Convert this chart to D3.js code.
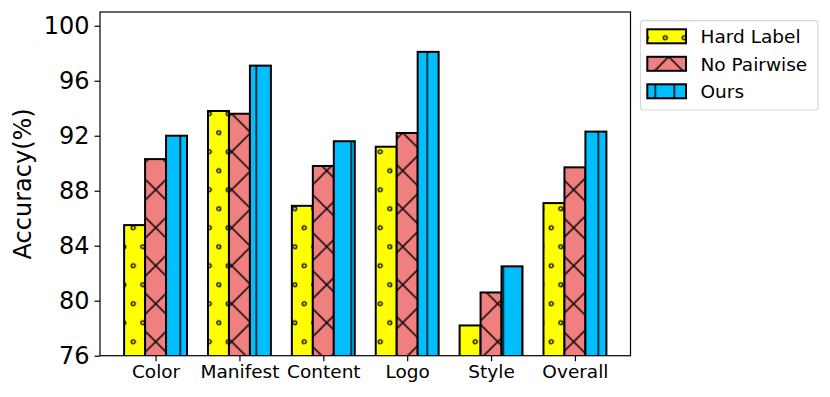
<!DOCTYPE html>
<html>
<head>
<meta charset="utf-8">
<script src="https://cdn.jsdelivr.net/npm/d3@7"></script>
<style>
  body { margin: 0; background: #fff; }
  svg { font-family: "DejaVu Sans", sans-serif; display: block; }
</style>
</head>
<body>
<div id="chart"></div>
<script>
// Accuracy per attribute, three variants
const categories = ['Color', 'Manifest', 'Content', 'Logo', 'Style', 'Overall'];
const hardLabel = [85.5, 93.8, 86.9, 91.2, 78.2, 87.1];
const noPairwise = [90.3, 93.6, 89.8, 92.2, 80.6, 89.7];
const ours = [92.0, 97.1, 91.6, 98.1, 82.5, 92.3];
const seriesNames = ['Hard Label', 'No Pairwise', 'Ours'];
const yTicks = [76, 80, 84, 88, 92, 96, 100];

const W = 830, H = 397;
const box = { left: 100, right: 630.5, top: 12, bottom: 355.7 };
const barW = 0.25;
const hatchStep = 19;

const svg = d3.select('#chart').append('svg')
  .attr('width', W)
  .attr('height', H);

const defs = svg.append('defs');

// hatch patterns, anchored in page coordinates so bars and legend share them
const dots = defs.append('pattern')
  .attr('id', 'hatch-dots')
  .attr('patternUnits', 'userSpaceOnUse')
  .attr('x', 133.3).attr('y', 227.7)
  .attr('width', hatchStep).attr('height', hatchStep * 2);
dots.append('rect').attr('width', hatchStep).attr('height', hatchStep * 2).attr('fill', '#ffff00');
[[0, 0], [hatchStep, 0], [0, hatchStep * 2], [hatchStep, hatchStep * 2], [hatchStep / 2, hatchStep]].forEach(p => {
  dots.append('circle')
    .attr('cx', p[0]).attr('cy', p[1]).attr('r', 1.9)
    .attr('fill', 'none').attr('stroke', '#000').attr('stroke-width', 1.4);
});

const cross = defs.append('pattern')
  .attr('id', 'hatch-cross')
  .attr('patternUnits', 'userSpaceOnUse')
  .attr('x', 155.7).attr('y', 265.7)
  .attr('width', hatchStep * 2).attr('height', hatchStep * 2);
cross.append('rect').attr('width', hatchStep * 2).attr('height', hatchStep * 2).attr('fill', '#f08080');
cross.append('path')
  .attr('d', `M-2,-2L${hatchStep * 2 + 2},${hatchStep * 2 + 2}M-2,${hatchStep * 2 + 2}L${hatchStep * 2 + 2},-2`)
  .attr('stroke', '#000').attr('stroke-width', 1.5).attr('fill', 'none');

const vert = defs.append('pattern')
  .attr('id', 'hatch-vert')
  .attr('patternUnits', 'userSpaceOnUse')
  .attr('x', 180.3).attr('y', 0)
  .attr('width', hatchStep).attr('height', hatchStep);
vert.append('rect').attr('width', hatchStep).attr('height', hatchStep).attr('fill', '#00bfff');
vert.append('path')
  .attr('d', `M0,-1V${hatchStep + 1}M${hatchStep},-1V${hatchStep + 1}`)
  .attr('stroke', '#000').attr('stroke-width', 1.5);

const fills = ['url(#hatch-dots)', 'url(#hatch-cross)', 'url(#hatch-vert)'];

defs.append('clipPath').attr('id', 'plot-clip')
  .append('rect')
  .attr('x', box.left).attr('y', box.top - 5)
  .attr('width', box.right - box.left).attr('height', box.bottom - box.top + 5);

// Scales (absolute page coordinates so patterns line up)
const x = d3.scaleLinear()
  .domain([-0.6625, categories.length - 1 + 0.6625])
  .range([box.left, box.right]);
const y = d3.scaleLinear()
  .domain([76, 101])
  .range([box.bottom, box.top]);

// Bars
const allSeries = [hardLabel, noPairwise, ours];
const bars = svg.append('g').attr('clip-path', 'url(#plot-clip)');
allSeries.forEach((vals, s) => {
  bars.selectAll('.bar-' + s)
    .data(vals)
    .enter()
    .append('rect')
    .attr('class', 'bar-' + s)
    .attr('x', (d, i) => x(i + (s - 1) * barW - barW / 2))
    .attr('width', x(barW) - x(0))
    .attr('y', d => y(d))
    .attr('height', d => y(76) - y(d) + 4)
    .attr('fill', fills[s])
    .attr('stroke', '#000')
    .attr('stroke-width', 2);
});

// Axes
const yAxis = d3.axisLeft(y).tickValues(yTicks).tickSize(5.5).tickSizeOuter(0).tickPadding(5);
const xAxis = d3.axisBottom(x).tickValues(d3.range(categories.length))
  .tickFormat(i => categories[i]).tickSize(5.5).tickSizeOuter(0).tickPadding(4);

const gy = svg.append('g')
  .attr('transform', `translate(${box.left},0)`)
  .call(yAxis);
gy.select('.domain').remove();
gy.selectAll('line').attr('stroke', '#000').attr('stroke-width', 1.2);
gy.selectAll('text').attr('font-size', 24).attr('fill', '#000')
  .attr('font-family', '"DejaVu Sans", sans-serif');

const gx = svg.append('g')
  .attr('transform', `translate(0,${box.bottom})`)
  .call(xAxis);
gx.select('.domain').remove();
gx.selectAll('line').attr('stroke', '#000').attr('stroke-width', 1.2);
gx.selectAll('text').attr('font-size', 18.5).attr('fill', '#000')
  .attr('font-family', '"DejaVu Sans", sans-serif');

// Frame
svg.append('rect')
  .attr('x', box.left).attr('y', box.top)
  .attr('width', box.right - box.left).attr('height', box.bottom - box.top)
  .attr('fill', 'none').attr('stroke', '#000').attr('stroke-width', 1.2);

// Y label
svg.append('text')
  .attr('transform', `translate(30.8,${(box.top + box.bottom) / 2}) rotate(-90)`)
  .attr('text-anchor', 'middle')
  .attr('font-size', 24)
  .text('Accuracy(%)');

// Legend
const legend = svg.append('g');
legend.append('rect')
  .attr('x', 640.5).attr('y', 20.7)
  .attr('width', 177.5).attr('height', 89.3)
  .attr('rx', 3)
  .attr('fill', '#fff').attr('fill-opacity', 0.8)
  .attr('stroke', '#d6d6d6').attr('stroke-width', 1.2);

seriesNames.forEach((name, s) => {
  const top = 29.3 + s * 27.5;
  legend.append('rect')
    .attr('x', 647.3).attr('y', top)
    .attr('width', 38.7).attr('height', 14)
    .attr('fill', fills[s])
    .attr('stroke', '#000').attr('stroke-width', 2);
  legend.append('text')
    .attr('x', 700.5).attr('y', top + 14)
    .attr('font-size', 18.5)
    .text(name);
});
</script>
</body>
</html>
